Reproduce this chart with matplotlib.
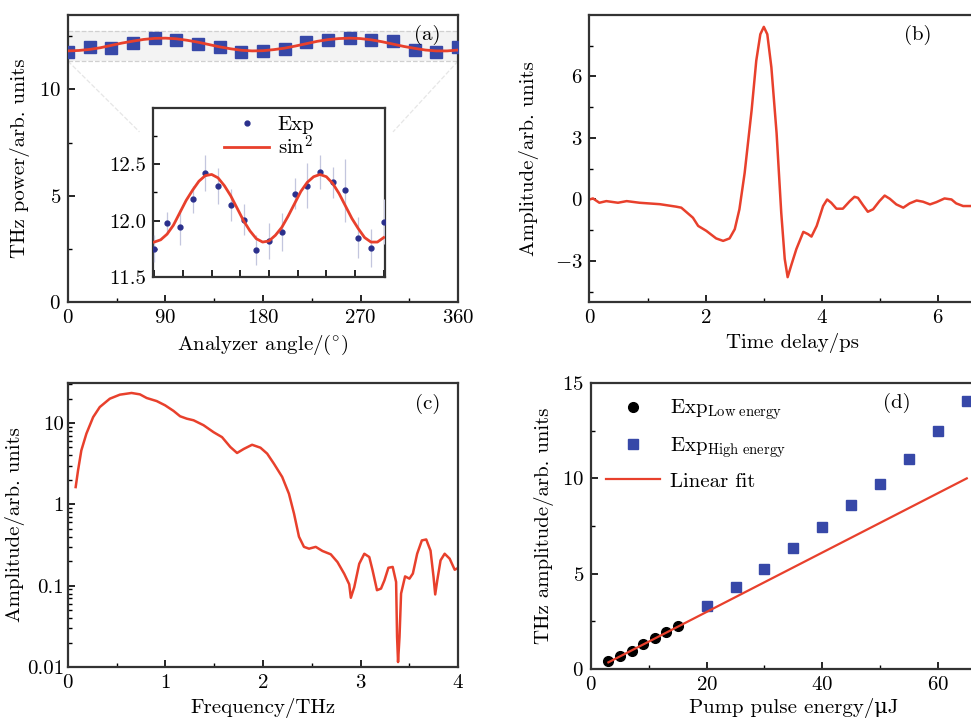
import numpy as np
import matplotlib.pyplot as plt
from matplotlib.lines import Line2D
from matplotlib.ticker import MultipleLocator, LogLocator, NullFormatter, FixedLocator

plt.rcParams['font.family'] = ['cmr10', 'DejaVu Serif']
plt.rcParams['mathtext.fontset'] = 'cm'
plt.rcParams['axes.formatter.use_mathtext'] = True
plt.rcParams['font.size'] = 15

FS = 15
RED = '#e8402c'
BLUE = '#3748a8'
NAVY = '#2a2f8c'

# (a) polarization dependence
angle = [0, 20, 40, 60, 80, 100, 120, 140, 160, 180, 200, 220, 240, 260, 280, 300, 320, 340, 360]
power = [11.75, 11.98, 11.94, 12.19, 12.42, 12.31, 12.14, 12.01, 11.74, 11.82,
         11.90, 12.24, 12.31, 12.43, 12.34, 12.27, 11.85, 11.76, 11.99]
power_err = [0.12, 0.1, 0.16, 0.12, 0.16, 0.16, 0.14, 0.14, 0.13, 0.16,
             0.17, 0.14, 0.2, 0.15, 0.14, 0.28, 0.18, 0.17, 0.2]
fit_angle = list(range(0, 361, 10))
fit_power = [11.81, 11.83, 11.88, 11.96, 12.07, 12.18, 12.27, 12.35, 12.40, 12.41,
             12.38, 12.31, 12.22, 12.11, 12.00, 11.91, 11.84, 11.81, 11.82, 11.87,
             11.94, 12.04, 12.15, 12.26, 12.34, 12.39, 12.41, 12.39, 12.33, 12.24,
             12.13, 12.02, 11.93, 11.85, 11.81, 11.81, 11.85]

# (b) time-domain waveform
t_delay = [0, 0.06, 0.17, 0.29, 0.49, 0.64, 0.86, 1.21, 1.49, 1.58, 1.78, 1.87, 2.01,
           2.18, 2.30, 2.41, 2.50, 2.58, 2.67, 2.79, 2.87, 2.94, 3.00, 3.06, 3.13,
           3.22, 3.30, 3.36, 3.41, 3.47, 3.56, 3.68, 3.76, 3.82, 3.91, 4.02, 4.09,
           4.16, 4.25, 4.36, 4.48, 4.56, 4.62, 4.71, 4.79, 4.88, 4.99, 5.08, 5.17,
           5.28, 5.40, 5.51, 5.63, 5.74, 5.86, 5.97, 6.11, 6.23, 6.31, 6.43, 6.56,
           6.70, 6.85, 7.0]
amp_t = [0, 0.05, -0.16, -0.08, -0.16, -0.08, -0.16, -0.23, -0.35, -0.4, -0.89, -1.29,
         -1.53, -1.9, -2.02, -1.9, -1.45, -0.48, 1.29, 4.35, 6.77, 8.06, 8.42, 8.06,
         6.45, 3.23, -0.65, -2.9, -3.79, -3.23, -2.42, -1.58, -1.69, -1.81, -1.29,
         -0.32, 0, -0.16, -0.45, -0.45, -0.08, 0.13, 0.08, -0.29, -0.6, -0.48, -0.08,
         0.19, 0.03, -0.24, -0.4, -0.19, -0.05, -0.11, -0.24, -0.13, 0.05, 0, -0.19,
         -0.32, -0.32, -0.25, -0.1, -0.2]

# (c) spectrum
freq = [0.079, 0.103, 0.137, 0.189, 0.258, 0.326, 0.429, 0.532, 0.652, 0.738, 0.807,
        0.91, 0.996, 1.082, 1.15, 1.219, 1.288, 1.39, 1.494, 1.58, 1.665, 1.734, 1.803,
        1.888, 1.974, 2.043, 2.112, 2.197, 2.266, 2.318, 2.369, 2.42, 2.472, 2.541,
        2.61, 2.695, 2.764, 2.833, 2.884, 2.901, 2.936, 2.987, 3.039, 3.09, 3.124,
        3.169, 3.21, 3.245, 3.286, 3.33, 3.365, 3.375, 3.385, 3.4, 3.416, 3.457,
        3.502, 3.537, 3.581, 3.629, 3.674, 3.718, 3.749, 3.766, 3.787, 3.821, 3.863,
        3.914, 3.966, 4.0]
spec = [1.63, 2.6, 4.6, 7.4, 11.8, 15.7, 19.9, 22.3, 23.4, 22.5, 20.3, 18.6, 16.5,
        14.1, 12.1, 11.3, 10.8, 9.4, 7.7, 6.7, 5.07, 4.28, 4.8, 5.4, 4.97, 4.2, 3.16,
        2.17, 1.35, 0.77, 0.40, 0.30, 0.285, 0.30, 0.267, 0.243, 0.195, 0.14, 0.104,
        0.071, 0.096, 0.186, 0.247, 0.225, 0.154, 0.088, 0.092, 0.116, 0.166, 0.17,
        0.111, 0.0234, 0.0115, 0.0234, 0.08, 0.13, 0.122, 0.141, 0.247, 0.36, 0.37,
        0.27, 0.128, 0.078, 0.116, 0.205, 0.247, 0.215, 0.157, 0.165]

# (d) pump energy dependence
e_low = [3, 5, 7, 9, 11, 13, 15]
a_low = [0.42, 0.70, 0.96, 1.30, 1.65, 1.96, 2.26]
e_high = [20, 25, 30, 35, 40, 45, 50, 55, 60, 65]
a_high = [3.28, 4.28, 5.26, 6.35, 7.44, 8.60, 9.72, 11.0, 12.46, 14.04]
fit_e = [3, 65]
fit_a = [0.35, 10.0]


def style(ax):
    for s in ax.spines.values():
        s.set_linewidth(1.6)
        s.set_color('#333333')
    ax.tick_params(which='both', direction='in', top=False, right=False, labelsize=FS, pad=5)
    ax.tick_params(which='major', length=5, width=1.2)
    ax.tick_params(which='minor', length=3, width=1.0)


def place_labels(ax, xlabel, ylabel, xl_y, yl_x):
    ax.set_xlabel(xlabel, fontsize=FS)
    ax.set_ylabel(ylabel, fontsize=FS)
    ax.xaxis.label.set_va('center')
    ax.yaxis.label.set_va('center')
    ax.xaxis.set_label_coords(0.5, xl_y)
    ax.yaxis.set_label_coords(yl_x, 0.5)


fig = plt.figure(figsize=(9.71, 7.2), dpi=100)

# panel (a)
ax = fig.add_axes([0.0700, 0.5806, 0.4017, 0.3986])
style(ax)
ax.axhspan(11.33, 12.75, color='#ececec', alpha=0.6, lw=0)
ax.axhline(11.33, color='#d0d0d0', ls='--', lw=0.9)
ax.axhline(12.75, color='#d0d0d0', ls='--', lw=0.9)
ax.plot(angle, power, 's', color=BLUE, ms=8, zorder=3)
ax.plot(fit_angle, fit_power, color=RED, lw=2, zorder=4)
ax.set_xlim(0, 360)
ax.set_ylim(0, 13.5)
ax.xaxis.set_major_locator(MultipleLocator(90))
ax.xaxis.set_minor_locator(MultipleLocator(45))
ax.yaxis.set_major_locator(MultipleLocator(5))
ax.yaxis.set_minor_locator(MultipleLocator(2.5))
place_labels(ax, r'Analyzer angle/$(^{\circ})$', 'THz power/arb. units', -0.150, -0.123)
ax.text(0.955, 0.93, '(a)', transform=ax.transAxes, ha='right', va='center', fontsize=FS)
# connector lines toward the inset
ax.plot([0, 66], [11.33, 8.0], color='#e6e6e6', ls='--', lw=0.9, zorder=1)
ax.plot([360, 300], [11.33, 8.0], color='#e6e6e6', ls='--', lw=0.9, zorder=1)

# inset of (a)
axi = fig.add_axes([0.1576, 0.6153, 0.2389, 0.2347])
style(axi)
axi.errorbar(angle, power, yerr=power_err, fmt='o', color=NAVY, ms=3.5,
             ecolor='#c3c6de', elinewidth=0.9, capsize=0, zorder=3)
axi.plot(fit_angle, fit_power, color=RED, lw=2, zorder=4)
axi.set_xlim(-2, 362)
axi.set_ylim(11.5, 13.0)
axi.xaxis.set_major_locator(MultipleLocator(45))
axi.tick_params(axis='x', labelbottom=False)
axi.yaxis.set_major_locator(FixedLocator([11.5, 12.0, 12.5]))
axi.yaxis.set_minor_locator(FixedLocator([11.75, 12.25, 12.75]))
axi.yaxis.set_major_formatter(plt.FuncFormatter(lambda v, p: f'{v:.1f}'))
inset_handles = [Line2D([], [], ls='none', marker='o', color=NAVY, ms=3.5),
                 Line2D([], [], color=RED, lw=2)]
axi.legend(inset_handles, ['Exp', 'sin$^2$'], loc='upper center', frameon=False,
           fontsize=FS, handlelength=2.2, borderaxespad=0.05, labelspacing=0.0,
           handletextpad=0.4, bbox_to_anchor=(0.5, 1.01))

# panel (b)
ax = fig.add_axes([0.6071, 0.5806, 0.4189, 0.3986])
style(ax)
ax.plot(t_delay, amp_t, color=RED, lw=1.8)
ax.set_xlim(0, 7)
ax.set_ylim(-5, 9)
ax.xaxis.set_major_locator(MultipleLocator(2))
ax.xaxis.set_minor_locator(MultipleLocator(1))
ax.yaxis.set_major_locator(FixedLocator([-3, 0, 3, 6]))
ax.yaxis.set_minor_locator(FixedLocator([-4.5, -1.5, 1.5, 4.5, 7.5]))
place_labels(ax, 'Time delay/ps', 'Amplitude/arb. units', -0.143, -0.149)
ax.text(0.84, 0.93, '(b)', transform=ax.transAxes, ha='right', va='center', fontsize=FS)

# panel (c)
ax = fig.add_axes([0.0700, 0.0736, 0.4017, 0.3944])
style(ax)
ax.semilogy(freq, spec, color=RED, lw=1.8)
ax.set_xlim(0, 4)
ax.set_ylim(0.01, 31)
ax.xaxis.set_major_locator(MultipleLocator(1))
ax.xaxis.set_minor_locator(MultipleLocator(0.5))
ax.yaxis.set_major_locator(FixedLocator([0.01, 0.1, 1, 10]))
ax.yaxis.set_major_formatter(plt.FixedFormatter(['0.01', '0.1', '1', '10']))
ax.yaxis.set_minor_locator(LogLocator(base=10, subs=np.arange(2, 10)))
ax.yaxis.set_minor_formatter(NullFormatter())
ax.tick_params(axis='y', pad=3)
place_labels(ax, 'Frequency/THz', 'Amplitude/arb. units', -0.144, -0.136)
ax.text(0.955, 0.925, '(c)', transform=ax.transAxes, ha='right', va='center', fontsize=FS)

# panel (d)
ax = fig.add_axes([0.6087, 0.0708, 0.4167, 0.3972])
style(ax)
ax.plot(e_low, a_low, 'o', color='black', ms=7, zorder=3,
        label=r'Exp$_{\rm Low\ energy}$')
ax.plot(e_high, a_high, 's', color=BLUE, ms=7, zorder=3,
        label=r'Exp$_{\rm High\ energy}$')
ax.plot(fit_e, fit_a, color=RED, lw=1.6, zorder=4, label='Linear fit')
ax.set_xlim(0, 70)
ax.set_ylim(0, 15)
ax.xaxis.set_major_locator(MultipleLocator(20))
ax.xaxis.set_minor_locator(MultipleLocator(10))
ax.yaxis.set_major_locator(MultipleLocator(5))
ax.yaxis.set_minor_locator(MultipleLocator(2.5))
place_labels(ax, 'Pump pulse energy/μJ', 'THz amplitude/arb. units', -0.136, -0.116)
ax.text(0.79, 0.93, '(d)', transform=ax.transAxes, ha='right', va='center', fontsize=FS)
ax.legend(loc='upper left', frameon=False, fontsize=FS, handlelength=2.6,
          labelspacing=0.6, handletextpad=0.5, borderaxespad=0.3)

fig.savefig('out.png', dpi=100)
